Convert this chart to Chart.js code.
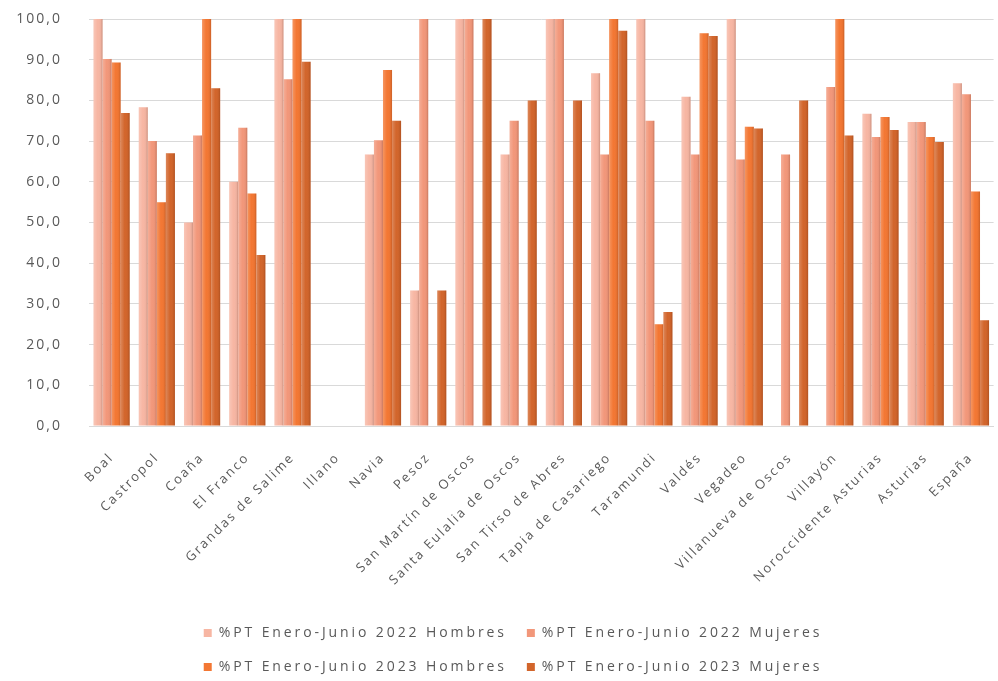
<!DOCTYPE html>
<html>
<head>
<meta charset="utf-8">
<script src="https://cdn.jsdelivr.net/npm/chart.js@4.4.0/dist/chart.umd.min.js"></script>
<style>
html,body{margin:0;padding:0;background:#ffffff;}
#wrap{width:998px;height:681px;position:relative;}
</style>
</head>
<body>
<div id="wrap"><canvas id="c"></canvas></div>
<script>
const categories = ["Boal","Castropol","Coaña","El Franco","Grandas de Salime","Illano","Navia","Pesoz","San Martín de Oscos","Santa Eulalia de Oscos","San Tirso de Abres","Tapia de Casariego","Taramundi","Valdés","Vegadeo","Villanueva de Oscos","Villayón","Noroccidente Asturias","Asturias","España"];
const seriesNames = ["%PT Enero-Junio 2022 Hombres","%PT Enero-Junio 2022 Mujeres","%PT Enero-Junio 2023 Hombres","%PT Enero-Junio 2023 Mujeres"];
const hombres2022 = [100, 78.3, 50, 60, 100, 0, 66.7, 33.3, 100, 66.7, 100, 86.7, 100, 80.9, 100, 0, 0, 76.7, 74.7, 84.2];
const mujeres2022 = [90.2, 70, 71.4, 73.3, 85.2, 0, 70.2, 100, 100, 75, 100, 66.7, 75, 66.7, 65.5, 66.7, 83.3, 71, 74.7, 81.5];
const hombres2023 = [89.3, 55, 100, 57.1, 100, 0, 87.5, 0, 0, 0, 0, 100, 25, 96.5, 73.5, 0, 100, 75.9, 71, 57.6];
const mujeres2023 = [76.9, 67, 83, 42, 89.5, 0, 75, 33.3, 100, 80, 80, 97.1, 28, 95.8, 73.1, 80, 71.4, 72.7, 69.8, 26];
const yTickValues = [0,10,20,30,40,50,60,70,80,90,100];

const colors = ['#F7B6A3', '#F2977A', '#F37733', '#D2652B'];
const textColor = '#595959';
const SCALE_SPACING = '2px';
const LEGEND_SPACING = '2.9px';
const LEGEND_SHIFT = 14;

const letterPlugin = {
  id: 'letterSpacing',
  beforeLayout(chart) {
    chart.ctx.letterSpacing = SCALE_SPACING;
    const lg = chart.legend;
    if (lg && !lg._patched) {
      const origFit = lg.fit;
      const origDraw = lg.draw;
      lg.fit = function() {
        const mw = this.maxWidth;
        this.ctx.letterSpacing = LEGEND_SPACING;
        this.maxWidth = 700;
        origFit.call(this);
        this.maxWidth = mw;
        this.width = mw;
        this.height = 75;
        this.ctx.letterSpacing = SCALE_SPACING;
      };
      lg.draw = function() {
        this.ctx.letterSpacing = LEGEND_SPACING;
        this.left += LEGEND_SHIFT; this.right += LEGEND_SHIFT;
        origDraw.apply(this, arguments);
        this.left -= LEGEND_SHIFT; this.right -= LEGEND_SHIFT;
        this.ctx.letterSpacing = SCALE_SPACING;
      };
      lg._patched = true;
    }
  },
  beforeDraw(chart) {
    chart.ctx.letterSpacing = SCALE_SPACING;
  }
};

const shadePlugin = {
  id: 'shade',
  afterDatasetsDraw(chart) {
    const ctx = chart.ctx;
    ctx.save();
    chart.data.datasets.forEach((ds, di) => {
      const meta = chart.getDatasetMeta(di);
      meta.data.forEach(bar => {
        const h = bar.base - bar.y;
        if (h <= 0.5) return;
        const l = bar.x - bar.width / 2;
        const g = ctx.createLinearGradient(l, 0, l + bar.width, 0);
        g.addColorStop(0, 'rgba(255,255,255,0.22)');
        g.addColorStop(0.45, 'rgba(255,255,255,0)');
        g.addColorStop(0.8, 'rgba(0,0,0,0.04)');
        g.addColorStop(1, 'rgba(80,20,0,0.22)');
        ctx.fillStyle = g;
        ctx.fillRect(l, bar.y, bar.width, h);
      });
    });
    ctx.restore();
  }
};

const datasets = [hombres2022, mujeres2022, hombres2023, mujeres2023].map((d, i) => ({
  label: seriesNames[i],
  data: d,
  backgroundColor: colors[i],
  borderWidth: 0,
  categoryPercentage: 0.8,
  barPercentage: 1.0
}));

new Chart(document.getElementById('c'), {
  type: 'bar',
  data: { labels: categories, datasets },
  plugins: [letterPlugin, shadePlugin],
  options: {
    responsive: true,
    maintainAspectRatio: false,
    animation: false,
    devicePixelRatio: 1,
    layout: { padding: { top: 19, left: 0, right: 0, bottom: 0 } },
    plugins: {
      tooltip: { enabled: false },
      legend: {
        position: 'bottom',
        labels: {
          color: textColor,
          font: { family: 'Open Sans', size: 14 },
          boxWidth: 8,
          boxHeight: 8,
          padding: 20
        }
      }
    },
    scales: {
      x: {
        grid: { display: false },
        border: { display: true, color: '#D9D9D9' },
        ticks: {
          color: textColor,
          font: { family: 'Open Sans', size: 13 },
          minRotation: 45,
          maxRotation: 45,
          autoSkip: false,
          padding: 16
        },
        afterFit(scale) { scale.height = 180; }
      },
      y: {
        min: 0,
        max: 100,
        afterBuildTicks(scale) { scale.ticks = yTickValues.map(v => ({ value: v })); },
        grid: { color: '#D9D9D9', drawTicks: false, lineWidth: 1 },
        border: { display: false },
        ticks: {
          color: textColor,
          font: { family: 'Open Sans', size: 14 },
          padding: 27,
          callback: v => v.toFixed(1).replace('.', ',')
        },
        afterFit(scale) {
          scale.width = 89;
          scale.paddingTop = 8;
          scale.paddingBottom = 8;
        }
      }
    }
  }
});
</script>
</body>
</html>
